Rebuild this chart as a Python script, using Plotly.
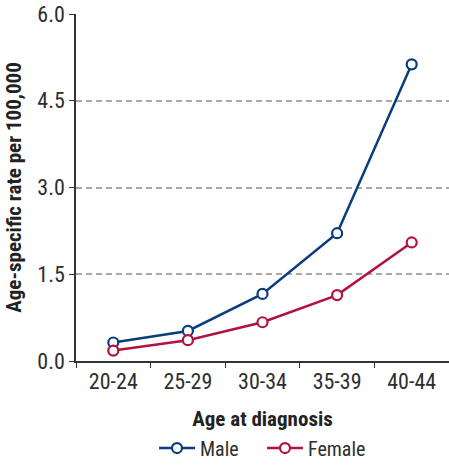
import plotly.graph_objects as go

age_groups = ["20-24", "25-29", "30-34", "35-39", "40-44"]
male_rate = [0.32, 0.52, 1.16, 2.21, 5.13]
female_rate = [0.18, 0.36, 0.67, 1.14, 2.05]
y_ticks = [0.0, 1.5, 3.0, 4.5, 6.0]
series_names = ["Male", "Female"]

FONT = "Roboto Condensed, Liberation Sans Narrow, Arial Narrow, sans-serif"
MALE = "#0b3d7e"
FEMALE = "#b3113f"
TXT = "#2e2e2e"
GAP = "\u00a0" * 4  # widens the space between the two legend entries

fig = go.Figure()
for name, vals, col, pad in [(series_names[0], male_rate, MALE, GAP),
                             (series_names[1], female_rate, FEMALE, "")]:
    fig.add_trace(go.Scatter(
        x=age_groups, y=vals, name=name + pad, mode="lines+markers",
        line=dict(color=col, width=2.5),
        marker=dict(symbol="circle", size=10, color="white",
                    line=dict(color=col, width=2.2)),
    ))

fig.update_layout(
    width=449, height=468,
    margin=dict(l=76, r=0, t=14, b=107),
    paper_bgcolor="white", plot_bgcolor="white",
    font=dict(family=FONT, size=21, color=TXT),
    showlegend=True,
    legend=dict(orientation="h", x=0.5, xanchor="center", y=-0.307, yanchor="bottom",
                font=dict(size=20, color=TXT), itemwidth=36, tracegroupgap=0),
    xaxis=dict(
        type="category", range=[-0.5, 4.5], automargin=False,
        showline=True, linecolor="#333333", linewidth=1.5,
        ticks="outside", tickson="boundaries", ticklen=5, tickcolor="#333333",
        showgrid=False,
        tickfont=dict(size=22, color=TXT),
        title=dict(text="<b>Age at diagnosis</b>", font=dict(size=21, color="#222222"), standoff=18),
    ),
    yaxis=dict(
        range=[0, 6], tickvals=y_ticks, ticktext=[f"{v:.1f}" for v in y_ticks],
        automargin=False,
        showline=True, linecolor="#333333", linewidth=1.5,
        ticks="outside", ticklen=5, tickcolor="#333333",
        showgrid=True, gridcolor="#a8a8a8", griddash="6px,4px", gridwidth=1.6,
        zeroline=False,
        tickfont=dict(size=22, color=TXT),
        title=dict(text="<b>Age-specific rate per 100,000</b>", font=dict(size=21, color="#222222"), standoff=10),
    ),
)

fig.write_html("out.html")
